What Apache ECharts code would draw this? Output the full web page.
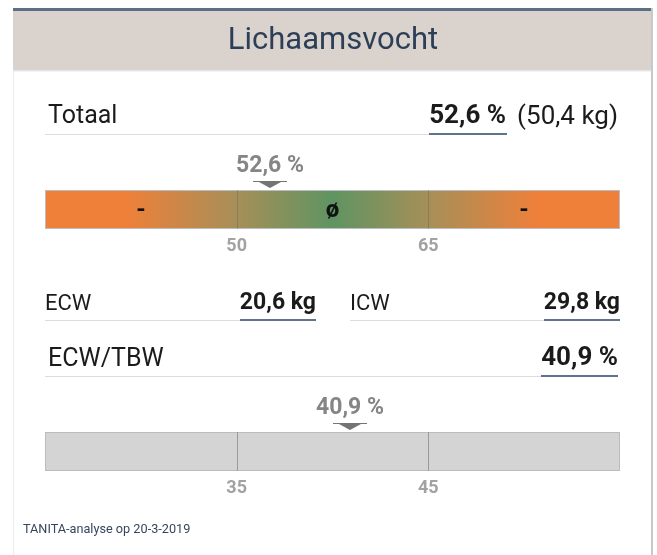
<!DOCTYPE html>
<html>
<head>
<meta charset="utf-8">
<script src="https://cdn.jsdelivr.net/npm/echarts@6/dist/echarts.min.js"></script>
<style>
  html, body { margin: 0; padding: 0; background: #fff; }
  #chart { width: 657px; height: 555px; }
</style>
</head>
<body>
<div id="chart"></div>
<script>
// values
const titleText = 'Lichaamsvocht'
const totalPct = 52.6
const totalKg = 50.4
const ecwKg = 20.6
const icwKg = 29.8
const ratioPct = 40.9
const totalBounds = [35, 50, 65, 80]
const totalZoneLabels = ['-', '\u00f8', '-']
const ratioBounds = [25, 35, 45, 55]
const ratioZoneLabels = ['', '', '']
const footerText = 'TANITA-analyse op 20-3-2019'

const FONT = 'Roboto'
const fmt = (v) => v.toFixed(1).replace('.', ',')

const orange = '#ef803a'
const olive = '#a68f58'
const green = '#5f9462'

const hGrad = (stops) => ({
  type: 'linear', x: 0, y: 0, x2: 1, y2: 0,
  colorStops: stops.map(([offset, color]) => ({ offset, color })),
})

const totalFills = [
  hGrad([[0, orange], [0.42, orange], [1, olive]]),
  hGrad([[0, olive], [0.5, green], [1, olive]]),
  hGrad([[0, olive], [0.58, orange], [1, orange]]),
]
const ratioFills = ['#d4d4d4', '#d4d4d4', '#d4d4d4']

// [lo, hi] per zone
const zones = (bounds) =>
  bounds.slice(0, -1).map((lo, i) => [lo, bounds[i + 1]])

function zoneRenderer(fills, labels, borderColor, dividerColor) {
  return (params, api) => {
    const lo = api.coord([api.value(0), 0])
    const hi = api.coord([api.value(1), 1])
    const x0 = Math.round(lo[0])
    const x1 = Math.round(hi[0])
    const yTop = Math.round(hi[1])
    const yBot = Math.round(lo[1])
    const idx = params.dataIndex
    const children = [
      {
        type: 'rect',
        shape: { x: x0, y: yTop, width: x1 - x0, height: yBot - yTop },
        style: { fill: fills[idx] },
      },
      {
        type: 'line',
        shape: { x1: x0, y1: yTop + 0.5, x2: x1, y2: yTop + 0.5 },
        style: { stroke: borderColor, lineWidth: 1 },
      },
      {
        type: 'line',
        shape: { x1: x0, y1: yBot - 0.5, x2: x1, y2: yBot - 0.5 },
        style: { stroke: borderColor, lineWidth: 1 },
      },
      {
        type: 'text',
        style: {
          x: (x0 + x1) / 2, y: (yTop + yBot) / 2 + 1,
          text: labels[idx],
          align: 'center', verticalAlign: 'middle',
          fontFamily: FONT, fontWeight: 'bold', fontSize: 24, fill: '#111',
        },
      },
      {
        type: 'line',
        shape: { x1: x0 + 0.5, y1: yTop, x2: x0 + 0.5, y2: yBot },
        style: { stroke: idx === 0 ? borderColor : dividerColor, lineWidth: 1 },
      },
    ]
    if (idx === fills.length - 1) {
      children.push({
        type: 'line',
        shape: { x1: x1 - 0.5, y1: yTop, x2: x1 - 0.5, y2: yBot },
        style: { stroke: borderColor, lineWidth: 1 },
      })
    }
    return { type: 'group', children }
  }
}

function markerRenderer(params, api) {
  const top = api.coord([api.value(0), 1])
  const x = Math.round(top[0])
  const y = Math.round(top[1])
  return {
    type: 'group',
    children: [
      {
        type: 'polygon',
        shape: {
          points: [
            [x - 17, y - 9], [x + 17, y - 9], [x + 17, y - 8],
            [x + 11, y - 8], [x, y - 2], [x - 11, y - 8],
            [x - 17, y - 8],
          ],
        },
        style: { fill: '#747474' },
      },
      {
        type: 'text',
        style: {
          x, y: y - 24,
          text: fmt(api.value(0)) + ' %',
          align: 'center', verticalAlign: 'middle',
          fontFamily: FONT, fontWeight: 'bold', fontSize: 23, fill: '#858585',
        },
      },
    ],
  }
}

function rangeAxes(bounds, gridIndex) {
  const step = bounds[1] - bounds[0]
  return {
    x: {
      type: 'value', gridIndex,
      min: bounds[0], max: bounds[bounds.length - 1], interval: step,
      axisLine: { show: false }, axisTick: { show: false },
      splitLine: { show: false },
      axisLabel: {
        showMinLabel: false, showMaxLabel: false,
        margin: 8, fontFamily: FONT, fontWeight: 'bold', fontSize: 18,
        color: '#a2a2a2',
        formatter: (v) => String(v),
      },
    },
    y: { type: 'value', gridIndex, min: 0, max: 1, show: false },
  }
}

const a1 = rangeAxes(totalBounds, 0)
const a2 = rangeAxes(ratioBounds, 1)

// text rows
const row = (text, x, y, size, opts = {}) => ({
  type: 'text', x, y,
  style: Object.assign({
    text, fontFamily: FONT, fontSize: size, fill: '#1b1b1b',
    verticalAlign: 'middle',
  }, opts),
})
const hline = (x1, x2, y, color, w) => ({
  type: 'rect', shape: { x: x1, y, width: x2 - x1, height: w },
  style: { fill: color },
})

const lineGrey = '#dcdcdc'
const lineBlue = '#5d7391'

const graphics = [
  // card
  { type: 'rect', shape: { x: 13, y: 8, width: 639, height: 560 }, style: { fill: '#fff' } },
  hline(13, 14, 8, '#ececec', 560),
  hline(651, 653, 8, '#c8c8c8', 560),
  hline(13, 651, 8, '#5b6e85', 3),
  hline(13, 651, 11, '#d9d2cd', 59),
  hline(13, 651, 70, '#e6e6e6', 1.5),
  row(titleText, 333, 41, 31, { align: 'center', fill: '#2d3f57' }),

  // Totaal
  row('Totaal', 48, 117, 25),
  hline(45, 507, 134, lineGrey, 1),
  hline(429, 507, 133, lineBlue, 2),
  row(fmt(totalPct) + ' %', 506, 116, 26, { align: 'right', fontWeight: 'bold' }),
  row('(' + fmt(totalKg) + ' kg)', 618, 117, 26, { align: 'right' }),

  // ECW / ICW
  row('ECW', 45, 304, 22),
  hline(45, 316, 320, lineGrey, 1),
  hline(240, 316, 319, lineBlue, 2),
  row(fmt(ecwKg) + ' kg', 316, 303, 23, { align: 'right', fontWeight: 'bold' }),
  row('ICW', 350, 304, 22),
  hline(350, 620, 320, lineGrey, 1),
  hline(544, 620, 319, lineBlue, 2),
  row(fmt(icwKg) + ' kg', 620, 303, 23, { align: 'right', fontWeight: 'bold' }),

  // ECW/TBW
  row('ECW/TBW', 48, 360, 25),
  hline(45, 618, 376, lineGrey, 1),
  hline(541, 618, 375, lineBlue, 2),
  row(fmt(ratioPct) + ' %', 618, 358, 26, { align: 'right', fontWeight: 'bold' }),

  row(footerText, 23, 530, 12.7, { fill: '#34465e' }),
]

const chart = echarts.init(document.getElementById('chart'), null, { renderer: 'canvas' })
chart.setOption({
  animation: false,
  backgroundColor: '#fff',
  graphic: { elements: graphics },
  grid: [
    { left: 45, width: 575, top: 190, height: 39 },
    { left: 45, width: 575, top: 432, height: 39 },
  ],
  xAxis: [a1.x, a2.x],
  yAxis: [a1.y, a2.y],
  series: [
    {
      type: 'custom', xAxisIndex: 0, yAxisIndex: 0, z: 3,
      renderItem: zoneRenderer(totalFills, totalZoneLabels, '#b9bdc4', 'rgba(90,90,90,0.35)'),
      data: zones(totalBounds),
      clip: false,
    },
    {
      type: 'custom', xAxisIndex: 0, yAxisIndex: 0, z: 4,
      renderItem: markerRenderer,
      data: [[totalPct]],
      clip: false,
    },
    {
      type: 'custom', xAxisIndex: 1, yAxisIndex: 1, z: 3,
      renderItem: zoneRenderer(ratioFills, ratioZoneLabels, '#bcbcbc', '#9a9a9a'),
      data: zones(ratioBounds),
      clip: false,
    },
    {
      type: 'custom', xAxisIndex: 1, yAxisIndex: 1, z: 4,
      renderItem: markerRenderer,
      data: [[ratioPct]],
      clip: false,
    },
  ],
})
</script>
</body>
</html>
